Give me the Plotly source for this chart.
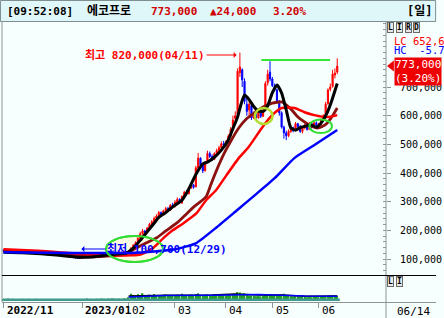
import plotly.graph_objects as go

# ---------------- data (prices in thousand KRW) ----------------
# trading-day index 0 = 2022-11-14 ... 144 = 2023-06-14
closes = [129,127,131,130,126,124,127,125,123,126,124,121,122,
          120,123,119,117,118,116,115,117,114,113,115,112,111,109,110,108,107,106,104,103,102,
          104,106,109,107,111,110,113,112,116,114,118,117,120,123,119,121,124,122,126,122,
          128,138,148,158,172,188,198,194,208,222,230,242,250,262,255,268,276,270,288,284,
          298,308,296,318,332,328,348,358,350,418,452,428,408,438,468,458,448,468,478,488,502,498,
          508,528,552,585,600,755,770,725,650,615,640,592,608,592,612,598,618,712,745,728,
          705,690,650,610,560,540,530,545,558,548,572,562,545,558,568,552,572,560,575,568,
          570,585,600,640,690,700,745,749,773]
opens = [131,129,127,131,130,126,124,127,125,123,126,124,121,
         122,120,123,119,117,118,116,115,117,114,113,115,112,111,109,110,108,107,106,104,104,
         102,104,106,109,107,111,110,113,112,116,114,118,117,120,123,119,121,124,122,126,
         122,128,138,148,158,172,188,198,194,208,222,230,242,250,262,255,268,276,270,288,
         284,298,308,296,318,332,328,348,358,352,418,452,428,408,438,468,458,448,468,478,488,502,
         498,508,528,555,590,605,750,760,720,640,620,635,592,608,592,612,598,630,715,752,
         728,705,690,650,610,560,540,530,545,558,548,572,562,545,558,568,552,572,560,575,
         568,570,585,602,642,692,702,742,752]
highs = [133,131,132,133,131,127,128,128,126,127,127,125,124,
         123,125,124,120,120,119,117,118,118,116,116,116,113,112,112,111,109,108,107,105,105,
         105,108,110,110,112,112,114,114,117,117,119,119,121,125,124,122,126,125,128,127,
         130,141,152,162,176,195,205,202,212,226,236,248,256,268,266,272,282,282,292,296,
         305,315,312,322,338,340,352,365,362,425,470,455,432,442,478,475,465,472,485,495,510,512,
         515,535,560,600,615,765,820,765,730,660,650,640,615,612,618,620,625,720,760,790,
         735,712,695,655,615,565,548,552,565,562,578,575,568,562,572,570,578,575,580,580,
         575,590,605,648,695,712,760,765,800]
lows = [127,125,126,128,125,122,123,124,121,122,123,120,120,
        119,119,118,115,116,114,113,114,113,111,112,110,109,107,108,106,105,104,102,101,100.7,
        101,103,105,106,106,109,109,111,111,113,113,116,116,119,118,118,120,121,121,121,
        121,126,136,146,156,170,185,190,192,205,218,228,238,248,252,252,265,266,268,280,
        280,295,292,292,315,322,325,345,345,350,415,420,400,405,435,452,442,445,462,475,485,492,
        495,505,525,550,575,600,735,700,640,600,600,585,588,585,590,592,595,625,705,720,
        700,685,645,600,555,520,515,525,540,542,545,555,540,538,552,548,550,555,555,560,
        560,565,580,598,638,685,698,730,745]
volumes = [0.6,0.5,0.7,0.5,0.6,0.5,0.4,0.5,0.6,0.5,0.5,0.6,0.5,
           0.5,0.6,0.5,0.4,0.5,0.5,0.4,0.5,0.5,0.4,0.4,0.5,0.4,0.5,0.4,0.4,0.5,0.4,0.5,0.6,0.5,
           0.5,0.6,0.7,0.5,0.6,0.5,0.6,0.6,0.7,0.6,0.6,0.7,0.6,0.8,0.7,0.6,0.7,0.6,0.8,0.7,
           1.2,2.4,2.0,1.6,2.2,1.8,2.6,1.9,1.7,2.1,1.8,2.3,1.9,2.0,1.7,1.9,2.2,1.8,2.0,1.7,
           1.8,2.1,1.7,2.4,2.0,1.8,1.9,2.1,1.8,2.3,2.6,2.0,1.8,1.9,2.2,1.8,1.7,1.9,1.8,2.0,2.1,1.8,
           1.8,1.9,2.1,2.4,2.2,3.0,2.8,2.4,2.6,2.0,1.8,1.7,1.6,1.5,1.6,1.5,1.7,2.0,2.2,2.3,
           2.0,1.8,1.9,2.0,2.2,2.4,1.9,1.6,1.5,1.4,1.5,1.4,1.3,1.4,1.3,1.2,1.3,1.2,1.4,1.3,
           1.2,1.3,1.4,1.6,1.8,1.7,1.9,1.8,1.7]

# moving-average lines (sparse points: index, value)
ma5_x = [0,8,16,24,33,40,48,53,56,59,62,65,67,70,73,77,80,83,86,88,91,94,97,99,101,102.5,104,106,108,110,112,114,116,118,120,122,124,126,128,131,133,135,137,139.6,141.7,143.8,144]
ma5_y = [124,122,118,113,106,109,117,121,138,165,195,225,245,262,282,305,345,395,432,438,455,480,515,555,595,640,672,656,632,616,615,635,680,707,679,620,557,550,558,565,567,560,574,609,654,707,712]
ma10_x = [0,10,20,30,38,46,52,57.8,62,66.3,70,74.8,78,82,85,87.5,89.5,91.7,95,98,101.5,105,108.7,112,116,120,122,124.4,126.5,128.6,132.8,135.4,137.5,139.6,142,144]
ma10_y = [127,125,120,113,108,111,115,141,158,175,198,226,250,281,300,318,360,405,465,510,557,590,612,630,644,648,638,620,600,585,564,557,562,574,600,627]
ma20_x = [0,10,20,30,40,50,55,59,64,69,73,77.8,83.3,87.5,91.7,96,101.5,105.7,111.7,115.9,120,125.6,129.9,134.1,139.6,144]
ma20_y = [134,131,126,120,114,112,113,116,135,173,200,226,260,306,340,390,452,490,560,602,627,627,612,602,595,602]
ma60_x = [0,20,40,55,65,74,83,92,100,108.5,117,125.5,134,144]
ma60_y = [124,122,121,121,126,134,155,211,265,323,382,452,497,550]

vma_x = [54,70,90,100,110,120,130,144]
vma_a = [1.6,1.9,2.0,2.3,2.0,2.0,1.5,1.6]
vma_b = [1.3,1.8,1.9,2.1,2.1,1.9,1.6,1.5]

month_idx = [0,34,54,74,96,116,136]
month_lbl = ["<b>2022/11</b>","<b>2023/01</b>","02","03","04","05","06"]
price_ticks = [100,200,300,400,500,600,700]
price_lbl = ["100,000","200,000","300,000","400,000","500,000","600,000","700,000"]

# ---------------- geometry helpers (pixel -> paper) ----------------
W, H = 444, 318
ML, MR, MT, MB = 2, 51, 22, 16
PW, PH = W - ML - MR, H - MT - MB
def px(x): return (x - ML) / PW
def py(y): return (H - MB - y) / PH

MONO = "DejaVu Sans Mono, Noto Sans CJK KR, monospace"
BG = "#f6fefe"
AX = "#8c9696"

fig = go.Figure()
fig.add_trace(go.Candlestick(
    x=list(range(len(closes))), open=opens, high=highs, low=lows, close=closes,
    increasing=dict(line=dict(color="#ff0000", width=1), fillcolor="#ff0000"),
    decreasing=dict(line=dict(color="#0000ff", width=1), fillcolor="#0000ff"),
    whiskerwidth=0, showlegend=False, hoverinfo="skip", xaxis="x", yaxis="y"))
for xs, ys, col, w in [(ma10_x, ma10_y, "#8b1010", 2.8), (ma20_x, ma20_y, "#ff0000", 2.5),
                       (ma5_x, ma5_y, "#000000", 3), (ma60_x, ma60_y, "#0000ff", 2.5)]:
    fig.add_trace(go.Scatter(x=xs, y=ys, mode="lines", line=dict(color=col, width=w, shape="spline", smoothing=0.5),
                             showlegend=False, hoverinfo="skip", xaxis="x", yaxis="y"))

fig.add_trace(go.Bar(x=list(range(len(volumes))), y=volumes, marker=dict(color="#22a022", line=dict(width=0)),
                     showlegend=False, hoverinfo="skip", xaxis="x2", yaxis="y2"))
fig.add_trace(go.Scatter(x=vma_x, y=vma_a, mode="lines", line=dict(color="#000000", width=1.5),
                         showlegend=False, hoverinfo="skip", xaxis="x2", yaxis="y2"))
fig.add_trace(go.Scatter(x=vma_x, y=vma_b, mode="lines", line=dict(color="#0000ff", width=1.5),
                         showlegend=False, hoverinfo="skip", xaxis="x2", yaxis="y2"))

xr = [(ML - 3.5) / 2.36, (W - MR - 3.5) / 2.36]
vol_dom = (302 - 275) / PH
ymin = (287.7 - 275) / 0.2867
ymax = (287.7 - 22) / 0.2867

shapes = []
def line(x0, y0, x1, y1, color, w=1):
    shapes.append(dict(type="line", xref="paper", yref="paper", x0=px(x0), y0=py(y0), x1=px(x1), y1=py(y1),
                       line=dict(color=color, width=w)))
# title bar
shapes.append(dict(type="rect", xref="paper", yref="paper", x0=px(0.5), x1=px(443.5), y0=py(21.5), y1=py(0.5),
                   fillcolor="#dff7f9", line=dict(color="#7f8f8f", width=1), layer="below"))
line(2, 22, 2, 302, AX)
line(393, 22, 393, 318, AX)
line(2, 275.5, 444, 275.5, "#000000")
line(2, 302.5, 444, 302.5, AX)
# teal volume base band
shapes.append(dict(type="rect", xref="paper", yref="paper", x0=px(3), x1=px(346), y0=py(301), y1=py(298.5),
                   fillcolor="#3f9a90", line=dict(width=0)))
# ellipses / marks
shapes.append(dict(type="circle", xref="paper", yref="paper", x0=px(108), x1=px(166), y0=py(262), y1=py(236),
                   fillcolor="rgba(255,248,215,0.7)", line=dict(color="#33dd33", width=2), layer="below"))
shapes.append(dict(type="circle", xref="paper", yref="paper", x0=px(108), x1=px(166), y0=py(262), y1=py(236),
                   line=dict(color="#33dd33", width=2)))
shapes.append(dict(type="circle", xref="paper", yref="paper", x0=px(259.5), x1=px(277.5), y0=py(124), y1=py(108),
                   line=dict(color="#b4dc2a", width=2.5)))
shapes.append(dict(type="circle", xref="paper", yref="paper", x0=px(315), x1=px(338), y0=py(133), y1=py(119.5),
                   line=dict(color="#33dd33", width=2)))
line(266, 60, 336, 60, "#33e633", 2.2)
# current price pointer
shapes.append(dict(type="path", xref="paper", yref="paper",
                   path=f"M {px(394)} {py(66)} L {px(401)} {py(60.5)} L {px(401)} {py(71.5)} Z",
                   fillcolor="#ee0000", line=dict(width=0)))

ann = []
def text(x, y, s, color="#000000", size=11, bold=False, anchor="left", bg=None, border=None):
    d = dict(xref="paper", yref="paper", x=px(x), y=py(y), text=(f"<b>{s}</b>" if bold else s), showarrow=False,
             xanchor=anchor, yanchor="middle", font=dict(family=MONO, size=size, color=color))
    if bg: d.update(bgcolor=bg)
    if border: d.update(bordercolor=border, borderwidth=1, borderpad=0)
    ann.append(d)

text(5, 11.5, "[09:52:08]", bold=True)
text(87, 11.5, "에코프로", bold=True, size=12)
text(152, 11.5, "773,000", color="#d00000", bold=True)
text(212, 11.5, "▲24,000", color="#d00000", bold=True)
text(276, 11.5, "3.20%", color="#d00000", bold=True)
text(412, 11.5, "[일]", bold=True, size=12)
for i, ch in enumerate("LIRD"):
    text(394 + i * 9, 27, ch, bold=True, size=8, border="#6a6a6a", bg="#e8e8e8")
for i, ch in enumerate("LI"):
    text(394 + i * 9, 281, ch, bold=True, size=8, border="#6a6a6a", bg="#e8e8e8")
text(399, 40.5, "LC 652,6", color="#ff0000", size=10.5)
text(399, 50.5, "HC  -5.7", color="#0000ff", size=10.5)
ann.append(dict(xref="paper", yref="paper", x=px(401), y=py(71.5), xanchor="left", yanchor="middle",
                text="773,000<br>(3.20%)", showarrow=False, bgcolor="#ee0000", borderpad=0,
                font=dict(family=MONO, size=11, color="#ffffff"), align="left"))
text(402, 311.5, "06/14", size=11)
for i, lbl in zip(month_idx, month_lbl):
    ann.append(dict(xref="x2", yref="paper", x=i, y=py(311), text=lbl, showarrow=False, xanchor="left",
                    yanchor="middle", xshift=1.2, font=dict(family=MONO, size=11, color="#000000")))
# high / low notes
ann.append(dict(xref="x", yref="y", x=100.6, y=(287.7 - 55) / 0.2867, ax=-30, ay=0, axref="pixel", ayref="pixel",
                text="<b>최고 820,000(04/11)</b>", showarrow=True, arrowhead=1, arrowsize=1, arrowwidth=1,
                arrowcolor="#ff0000", xanchor="right", yanchor="middle",
                font=dict(family=MONO, size=11, color="#ff0000")))
ann.append(dict(xref="x", yref="y", x=33.6, y=(287.7 - 249) / 0.2867, ax=24, ay=0, axref="pixel", ayref="pixel",
                text="<b>최저 100,700(12/29)</b>", showarrow=True, arrowhead=1, arrowsize=1, arrowwidth=1,
                arrowcolor="#0000ff", xanchor="left", yanchor="middle",
                font=dict(family=MONO, size=11, color="#0000ff")))

fig.update_layout(
    width=W, height=H, margin=dict(l=ML, r=MR, t=MT, b=MB),
    paper_bgcolor=BG, plot_bgcolor=BG, showlegend=False, bargap=0.35,
    xaxis=dict(domain=[0, 1], range=xr, anchor="y", showticklabels=False, showgrid=False, zeroline=False,
               rangeslider=dict(visible=False), ticks=""),
    yaxis=dict(domain=[vol_dom, 1], range=[ymin, ymax], anchor="x", side="right", tickvals=price_ticks,
               ticktext=price_lbl, ticks="outside", ticklen=4, tickcolor=AX, showgrid=False, zeroline=False,
               showline=False, ticklabelstandoff=7,
               tickfont=dict(family=MONO, size=10, color="#000000"),
               minor=dict(dtick=20, ticks="inside", ticklen=3, tickcolor=AX)),
    xaxis2=dict(domain=[0, 1], range=xr, anchor="y2", matches="x", showticklabels=False, showgrid=False,
                zeroline=False, tickvals=month_idx, ticks="outside", ticklen=5, tickcolor=AX,
                rangeslider=dict(visible=False)),
    yaxis2=dict(domain=[0, vol_dom], range=[-0.5, 9], anchor="x2", side="right", showticklabels=False,
                showgrid=False, zeroline=False, ticks=""),
    shapes=shapes, annotations=ann,
)
fig.write_html("out.html")
